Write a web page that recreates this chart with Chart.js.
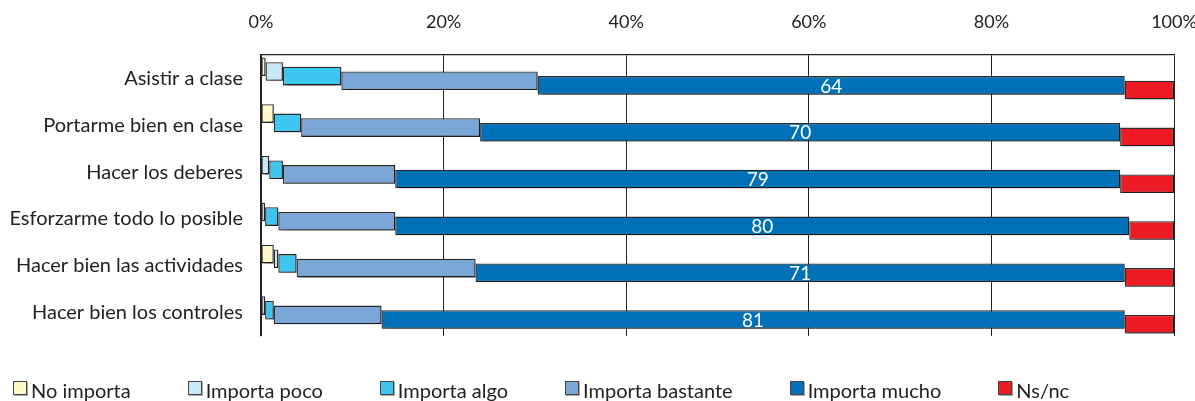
<!DOCTYPE html>
<html>
<head>
<meta charset="utf-8">
<script src="https://cdn.jsdelivr.net/npm/chart.js@4"></script>
<style>
  body { margin: 0; background: #fff; }
  #wrap { position: relative; width: 1195px; height: 401px; }
  #legend {
    position: absolute; left: 13px; top: 379px;
    display: flex; gap: 57px;
    font: 20px Lato, sans-serif; color: #222; line-height: 22px;
  }
  #legend span.item { display: flex; align-items: center; }
  #legend i {
    display: inline-block; width: 12px; height: 12px; margin-right: 4px;
    border: 1px solid #444; box-shadow: 1px 1px 0 #aaa; margin-top: -5px;
  }
</style>
</head>
<body>
<div id="wrap">
  <canvas id="chart" width="1195" height="401"></canvas>
  <div id="legend"></div>
</div>
<script>
// Categorías (filas) y porcentajes por respuesta
const categories = [
  'Asistir a clase',
  'Portarme bien en clase',
  'Hacer los deberes',
  'Esforzarme todo lo posible',
  'Hacer bien las actividades',
  'Hacer bien los controles'
];
const seriesNames = ['No importa', 'Importa poco', 'Importa algo', 'Importa bastante', 'Importa mucho', 'Ns/nc'];
const noImporta       = [0.5, 1.4, 0,    0,    1.4, 0];
const importaPoco     = [1.9, 0,   0.9,  0.45, 0.5, 0.45];
const importaAlgo     = [6.4, 3.0, 1.5,  1.45, 2.0, 0.95];
const importaBastante = [21.5, 19.6, 12.3, 12.8, 19.6, 11.8];
const importaMucho    = [64.3, 70.1, 79.4, 80.4, 71.1, 81.4];
const nsNc            = [5.4, 5.9, 5.9, 4.9, 5.4, 5.4];
const tickValues = [0, 20, 40, 60, 80, 100];

const seriesColors = ['#fff8c8', '#c9e9f8', '#3ec6f0', '#7ba6d8', '#0070b8', '#ed1c24'];
const allSeries = [noImporta, importaPoco, importaAlgo, importaBastante, importaMucho, nsNc];

// Barras flotantes: cada segmento va de la suma acumulada anterior a la siguiente
const running = categories.map(() => 0);
const datasets = allSeries.map((vals, i) => {
  const data = vals.map((v, j) => {
    const start = running[j];
    running[j] += v;
    return v > 0 ? [start, running[j]] : null;
  });
  return {
    label: seriesNames[i],
    data: data,
    backgroundColor: seriesColors[i],
    borderColor: '#2b2b2b',
    borderWidth: 1.3,
    borderSkipped: false,
    barPercentage: 4.0,
    categoryPercentage: 0.596
  };
});

// Sombra suave bajo las barras
const shadowPlugin = {
  id: 'shadow',
  beforeDatasetsDraw(chart) {
    const ctx = chart.ctx;
    ctx.save();
    ctx.shadowColor = 'rgba(0,0,0,0.35)';
    ctx.shadowOffsetX = 1.5;
    ctx.shadowOffsetY = 1.5;
    ctx.shadowBlur = 1;
  },
  afterDatasetsDraw(chart) {
    chart.ctx.restore();
  }
};

// Valor de "Importa mucho" dentro de su barra
const valueLabels = {
  id: 'valueLabels',
  afterDatasetsDraw(chart) {
    const ctx = chart.ctx;
    const meta = chart.getDatasetMeta(4);
    ctx.save();
    ctx.fillStyle = '#fff';
    ctx.font = '19px Lato, sans-serif';
    ctx.textAlign = 'center';
    ctx.textBaseline = 'middle';
    meta.data.forEach((bar, j) => {
      const x = (bar.x + bar.base) / 2;
      ctx.fillText(Math.round(importaMucho[j]), x, bar.y + 1);
    });
    ctx.restore();
  }
};

new Chart(document.getElementById('chart'), {
  type: 'bar',
  data: { labels: categories, datasets: datasets },
  options: {
    indexAxis: 'y',
    responsive: false,
    animation: false,
    layout: { padding: { left: 0, right: 21, top: 0, bottom: 65 } },
    plugins: {
      legend: { display: false },
      tooltip: { enabled: false }
    },
    scales: {
      x: {
        position: 'top',
        min: 0,
        max: 100,
        afterBuildTicks(scale) {
          scale.ticks = tickValues.map(v => ({ value: v }));
        },
        afterFit(scale) {
          scale.height = 55;
          scale.paddingLeft = 0;
          scale.paddingRight = 0;
        },
        ticks: {
          padding: 22,
          color: '#222',
          font: { family: 'Lato', size: 18 },
          callback: v => v + '%'
        },
        grid: { color: '#222', lineWidth: 1, drawTicks: false },
        border: { color: '#222', width: 1.3 }
      },
      y: {
        afterFit(scale) { scale.width = 261; },
        ticks: {
          padding: 18,
          color: '#222',
          font: { family: 'Lato', size: 20 }
        },
        grid: {
          drawTicks: false,
          color: c => (c.index === categories.length ? '#222' : 'rgba(0,0,0,0)'),
          lineWidth: 1.3
        },
        border: { color: '#222', width: 1.3 }
      }
    }
  },
  plugins: [shadowPlugin, valueLabels]
});

// Leyenda en HTML bajo el gráfico
const legendEl = document.getElementById('legend');
seriesNames.forEach((name, i) => {
  const item = document.createElement('span');
  item.className = 'item';
  item.innerHTML = '<i style="background:' + seriesColors[i] + '"></i>' + name;
  legendEl.appendChild(item);
});
</script>
</body>
</html>
